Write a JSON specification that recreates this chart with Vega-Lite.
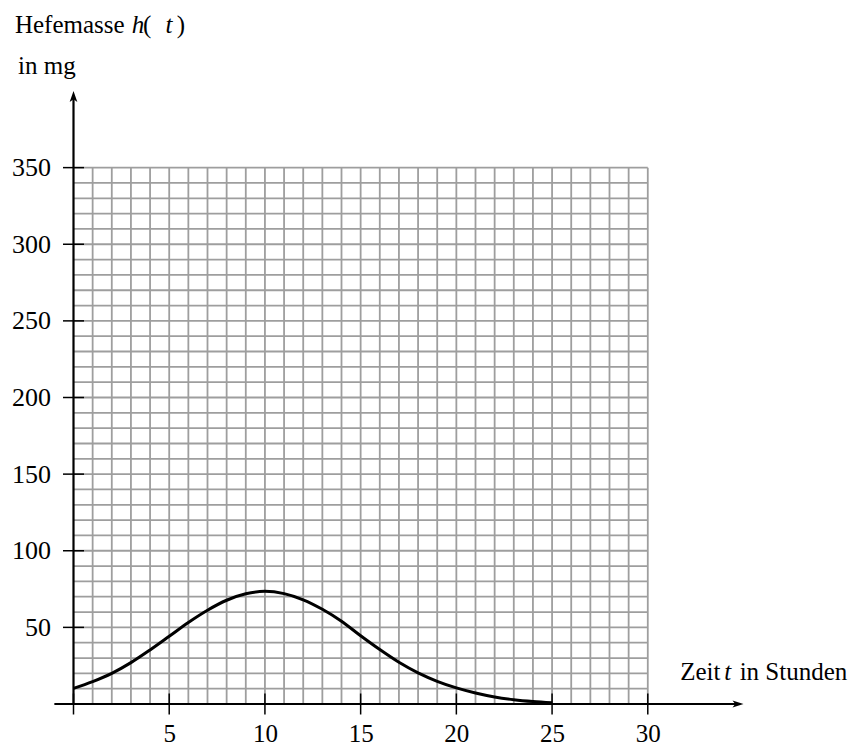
{
  "$schema": "https://vega.github.io/schema/vega-lite/v6.json",
  "autosize": "none",
  "padding": {"left": 73.5, "top": 91, "right": 106.5, "bottom": 44},
  "width": 670,
  "height": 613,
  "background": "white",
  "config": {"view": {"stroke": null}},
  "datasets": {
    "one": [{"k": 1}],
    "curve": [
      {"t": 0, "h": 10.2}, {"t": 1, "h": 14.6}, {"t": 2, "h": 20.0}, {"t": 3, "h": 27.0},
      {"t": 4, "h": 35.3}, {"t": 5, "h": 44.2}, {"t": 6, "h": 53.2}, {"t": 7, "h": 61.2},
      {"t": 8, "h": 67.7}, {"t": 9, "h": 71.9}, {"t": 10, "h": 73.5}, {"t": 11, "h": 72.0},
      {"t": 12, "h": 68.0}, {"t": 13, "h": 61.8}, {"t": 14, "h": 54.0}, {"t": 15, "h": 44.5},
      {"t": 16, "h": 35.5}, {"t": 17, "h": 27.2}, {"t": 18, "h": 20.3}, {"t": 19, "h": 14.8},
      {"t": 20, "h": 10.5}, {"t": 21, "h": 7.2}, {"t": 22, "h": 4.6}, {"t": 23, "h": 2.8},
      {"t": 24, "h": 1.6}, {"t": 25, "h": 0.8}
    ],
    "vgrid": [
      {"t": 1}, {"t": 2}, {"t": 3}, {"t": 4}, {"t": 5}, {"t": 6}, {"t": 7}, {"t": 8}, {"t": 9}, {"t": 10},
      {"t": 11}, {"t": 12}, {"t": 13}, {"t": 14}, {"t": 15}, {"t": 16}, {"t": 17}, {"t": 18}, {"t": 19}, {"t": 20},
      {"t": 21}, {"t": 22}, {"t": 23}, {"t": 24}, {"t": 25}, {"t": 26}, {"t": 27}, {"t": 28}, {"t": 29}, {"t": 30}
    ],
    "hgrid": [
      {"h": 10}, {"h": 20}, {"h": 30}, {"h": 40}, {"h": 50}, {"h": 60}, {"h": 70}, {"h": 80}, {"h": 90}, {"h": 100},
      {"h": 110}, {"h": 120}, {"h": 130}, {"h": 140}, {"h": 150}, {"h": 160}, {"h": 170}, {"h": 180}, {"h": 190}, {"h": 200},
      {"h": 210}, {"h": 220}, {"h": 230}, {"h": 240}, {"h": 250}, {"h": 260}, {"h": 270}, {"h": 280}, {"h": 290}, {"h": 300},
      {"h": 310}, {"h": 320}, {"h": 330}, {"h": 340}, {"h": 350}
    ],
    "xticks": [{"t": 0}, {"t": 5}, {"t": 10}, {"t": 15}, {"t": 20}, {"t": 25}, {"t": 30}],
    "yticks": [{"h": 50}, {"h": 100}, {"h": 150}, {"h": 200}, {"h": 250}, {"h": 300}, {"h": 350}]
  },
  "layer": [
    {
      "data": {"name": "vgrid"},
      "mark": {"type": "rule", "color": "#9e9e9e", "strokeWidth": 1.8},
      "encoding": {
        "x": {"field": "t", "type": "quantitative",
              "scale": {"domain": [0, 35], "nice": false, "zero": false},
              "axis": {"values": [5, 10, 15, 20, 25, 30], "title": null, "domain": false, "ticks": false, "grid": false,
                       "labelFont": "Liberation Serif", "labelFontSize": 25, "labelColor": "black", "labelPadding": 17}},
        "y": {"datum": 0, "type": "quantitative", "scale": {"domain": [0, 400], "nice": false}},
        "y2": {"datum": 350}
      }
    },
    {
      "data": {"name": "hgrid"},
      "mark": {"type": "rule", "color": "#9e9e9e", "strokeWidth": 1.8},
      "encoding": {
        "y": {"field": "h", "type": "quantitative",
              "scale": {"domain": [0, 400], "nice": false},
              "axis": {"values": [50, 100, 150, 200, 250, 300, 350], "title": null, "domain": false, "ticks": false, "grid": false,
                       "labelFont": "Liberation Serif", "labelFontSize": 26, "labelColor": "black", "labelPadding": 23}},
        "x": {"datum": 0, "type": "quantitative", "scale": {"domain": [0, 35], "nice": false, "zero": false}},
        "x2": {"datum": 30}
      }
    },
    {
      "data": {"name": "curve"},
      "mark": {"type": "line", "color": "black", "strokeWidth": 3, "interpolate": "monotone"},
      "encoding": {
        "x": {"field": "t", "type": "quantitative", "scale": {"domain": [0, 35], "nice": false, "zero": false}},
        "y": {"field": "h", "type": "quantitative", "scale": {"domain": [0, 400], "nice": false}}
      }
    },
    {
      "data": {"name": "one"},
      "mark": {"type": "rule", "color": "black", "strokeWidth": 2.2},
      "encoding": {
        "x": {"datum": -1, "type": "quantitative"},
        "x2": {"datum": 34.7},
        "y": {"datum": 0, "type": "quantitative"}
      }
    },
    {
      "data": {"name": "one"},
      "mark": {"type": "rule", "color": "black", "strokeWidth": 2.2},
      "encoding": {
        "x": {"datum": 0, "type": "quantitative"},
        "y": {"datum": 0, "type": "quantitative"},
        "y2": {"datum": 396}
      }
    },
    {
      "data": {"name": "one"},
      "mark": {"type": "point", "shape": "M0,0 L-2,-0.65 L-1.5,0 L-2,0.65 Z", "size": 121, "filled": true, "color": "black", "opacity": 1},
      "encoding": {
        "x": {"datum": 35, "type": "quantitative"},
        "y": {"datum": 0, "type": "quantitative"}
      }
    },
    {
      "data": {"name": "one"},
      "mark": {"type": "point", "shape": "M0,0 L-0.7,2 L0,1.5 L0.7,2 Z", "size": 121, "filled": true, "color": "black", "opacity": 1},
      "encoding": {
        "x": {"datum": 0, "type": "quantitative"},
        "y": {"datum": 400, "type": "quantitative"}
      }
    },
    {
      "data": {"name": "xticks"},
      "mark": {"type": "tick", "orient": "vertical", "size": 21, "thickness": 1.5, "color": "black", "opacity": 1},
      "encoding": {
        "x": {"field": "t", "type": "quantitative"},
        "y": {"datum": 0, "type": "quantitative"}
      }
    },
    {
      "data": {"name": "yticks"},
      "mark": {"type": "tick", "orient": "horizontal", "size": 21, "thickness": 1.5, "color": "black", "opacity": 1},
      "encoding": {
        "y": {"field": "h", "type": "quantitative"},
        "x": {"datum": 0, "type": "quantitative"}
      }
    },
    {
      "data": {"name": "one"},
      "mark": {"type": "text", "text": "Hefemasse", "font": "Liberation Serif", "fontSize": 25, "align": "left", "baseline": "alphabetic", "color": "black"},
      "encoding": {"x": {"datum": -3.06, "type": "quantitative"}, "y": {"datum": 438, "type": "quantitative"}}
    },
    {
      "data": {"name": "one"},
      "mark": {"type": "text", "text": "h", "font": "Liberation Serif", "fontStyle": "italic", "fontSize": 25, "align": "left", "baseline": "alphabetic", "color": "black"},
      "encoding": {"x": {"datum": 3.04, "type": "quantitative"}, "y": {"datum": 438, "type": "quantitative"}}
    },
    {
      "data": {"name": "one"},
      "mark": {"type": "text", "text": "(", "font": "Liberation Serif", "fontSize": 25, "align": "left", "baseline": "alphabetic", "color": "black"},
      "encoding": {"x": {"datum": 3.63, "type": "quantitative"}, "y": {"datum": 438, "type": "quantitative"}}
    },
    {
      "data": {"name": "one"},
      "mark": {"type": "text", "text": "t", "font": "Liberation Serif", "fontStyle": "italic", "fontSize": 25, "align": "left", "baseline": "alphabetic", "color": "black"},
      "encoding": {"x": {"datum": 4.8, "type": "quantitative"}, "y": {"datum": 438, "type": "quantitative"}}
    },
    {
      "data": {"name": "one"},
      "mark": {"type": "text", "text": ")", "font": "Liberation Serif", "fontSize": 25, "align": "left", "baseline": "alphabetic", "color": "black"},
      "encoding": {"x": {"datum": 5.4, "type": "quantitative"}, "y": {"datum": 438, "type": "quantitative"}}
    },
    {
      "data": {"name": "one"},
      "mark": {"type": "text", "text": "in mg", "font": "Liberation Serif", "fontSize": 25, "align": "left", "baseline": "alphabetic", "color": "black"},
      "encoding": {"x": {"datum": -2.9, "type": "quantitative"}, "y": {"datum": 411, "type": "quantitative"}}
    },
    {
      "data": {"name": "one"},
      "mark": {"type": "text", "text": "Zeit", "font": "Liberation Serif", "fontSize": 25, "align": "left", "baseline": "alphabetic", "color": "black"},
      "encoding": {"x": {"datum": 31.69, "type": "quantitative"}, "y": {"datum": 15.7, "type": "quantitative"}}
    },
    {
      "data": {"name": "one"},
      "mark": {"type": "text", "text": "t", "font": "Liberation Serif", "fontStyle": "italic", "fontSize": 25, "align": "left", "baseline": "alphabetic", "color": "black"},
      "encoding": {"x": {"datum": 34.0, "type": "quantitative"}, "y": {"datum": 15.7, "type": "quantitative"}}
    },
    {
      "data": {"name": "one"},
      "mark": {"type": "text", "text": "in Stunden", "font": "Liberation Serif", "fontSize": 25, "align": "left", "baseline": "alphabetic", "color": "black"},
      "encoding": {"x": {"datum": 34.8, "type": "quantitative"}, "y": {"datum": 15.7, "type": "quantitative"}}
    }
  ]
}
